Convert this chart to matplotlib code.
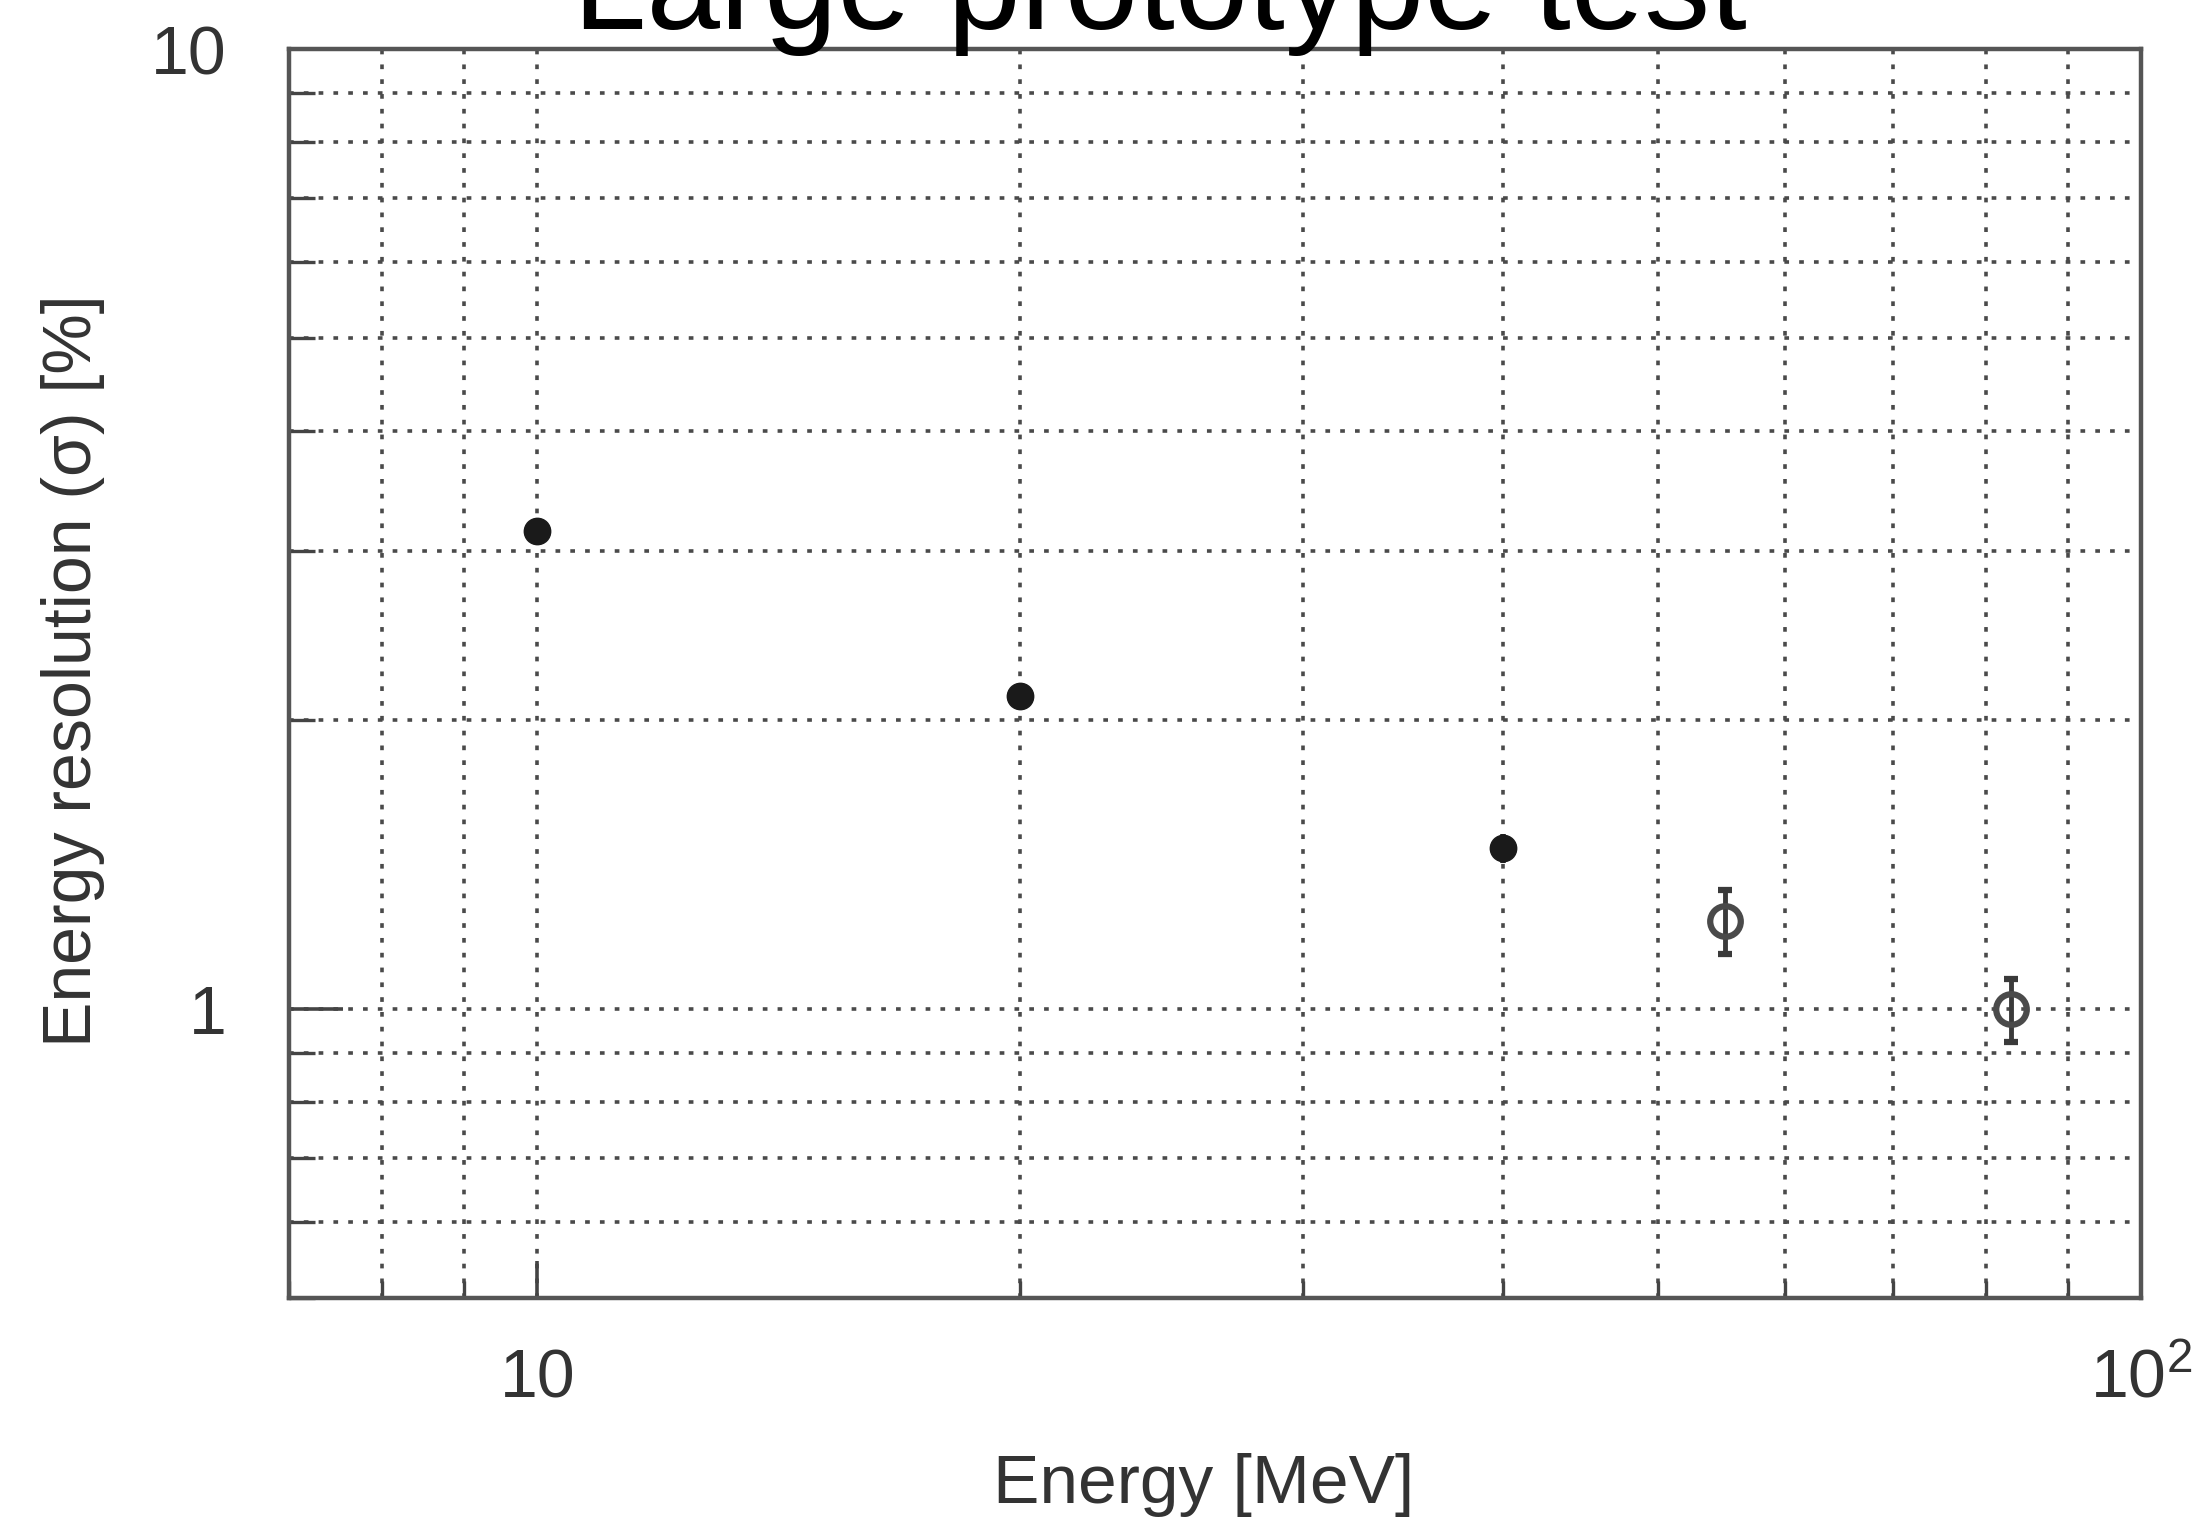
import numpy as np
import matplotlib
matplotlib.use("Agg")
import matplotlib.pyplot as plt
from matplotlib.ticker import FixedLocator, NullFormatter

plt.rcParams['font.family'] = ['Liberation Sans', 'DejaVu Sans']
plt.rcParams['mathtext.fontset'] = 'custom'
plt.rcParams['mathtext.rm'] = 'Liberation Sans'

# data
energy_filled = [10, 20, 40]
resol_filled = [3.15, 2.12, 1.47]
err_filled = [0.0, 0.0, 0.05]

energy_open = [55, 83]
resol_open = [1.235, 1.0]
err_open = [0.095, 0.075]

x_major = [10, 100]
x_major_labels = ['10', r'$\mathregular{10^2}$']
x_minor = [7, 8, 9, 20, 30, 40, 50, 60, 70, 80, 90]
y_major = [1, 10]
y_major_labels = ['1', '10']
y_minor = [0.5, 0.6, 0.7, 0.8, 0.9, 2, 3, 4, 5, 6, 7, 8, 9]

txt_col = '#333333'

fig = plt.figure(figsize=(21.93, 15.24), dpi=100)
ax = fig.add_axes([0.1318, 0.1483, 0.8445, 0.8195])
ax.set_xscale('log')
ax.set_yscale('log')
ax.set_xlim(7, 100)
ax.set_ylim(0.5, 10)

# grid on every decade line and sub-line
ax.grid(True, which='both', linestyle=(0, (1.3, 2.8)), color='#4a4a4a', linewidth=2.6)
ax.set_axisbelow(True)

ax.errorbar(energy_filled, resol_filled, yerr=err_filled, fmt='o', ms=19,
            color='#1a1a1a', ecolor='#222222', elinewidth=4, capsize=0, zorder=3)
ax.errorbar(energy_open, resol_open, yerr=err_open, fmt='o', ms=22,
            mfc='none', mec='#4a4a4a', mew=4.5, ecolor='#3a3a3a',
            elinewidth=3.5, capsize=5, capthick=4, zorder=3)

ax.xaxis.set_major_locator(FixedLocator(x_major))
ax.xaxis.set_minor_locator(FixedLocator(x_minor))
ax.set_xticklabels(x_major_labels)
ax.xaxis.set_minor_formatter(NullFormatter())
ax.yaxis.set_major_locator(FixedLocator(y_major))
ax.yaxis.set_minor_locator(FixedLocator(y_minor))
ax.set_yticklabels(y_major_labels)
ax.yaxis.set_minor_formatter(NullFormatter())

ax.tick_params(axis='x', which='major', direction='in', length=27, width=2.6,
               color='#444444', labelsize=49, labelcolor=txt_col, pad=36)
ax.tick_params(axis='x', which='minor', direction='in', length=12, width=2.4,
               color='#444444')
ax.tick_params(axis='y', which='major', direction='in', length=39, width=2.6,
               color='#444444', labelsize=49, labelcolor=txt_col, pad=45)
ax.tick_params(axis='y', which='minor', direction='in', length=19, width=2.4,
               color='#444444')

for s in ax.spines.values():
    s.set_color('#555555')
    s.set_linewidth(3.2)

fig.text(0.549, 1 - 1503 / 1524, 'Energy [MeV]', ha='center', va='baseline',
         fontsize=50, color=txt_col)
fig.text(0.0333, 0.5597, 'Energy resolution (\u03c3) [%]', ha='center', va='center',
         rotation=90, fontsize=49, color=txt_col)
fig.text(0.529, 1 - 29 / 1524, 'Large prototype test', ha='center', va='baseline',
         fontsize=95, color='black')

fig.savefig('out.png', dpi=100)
